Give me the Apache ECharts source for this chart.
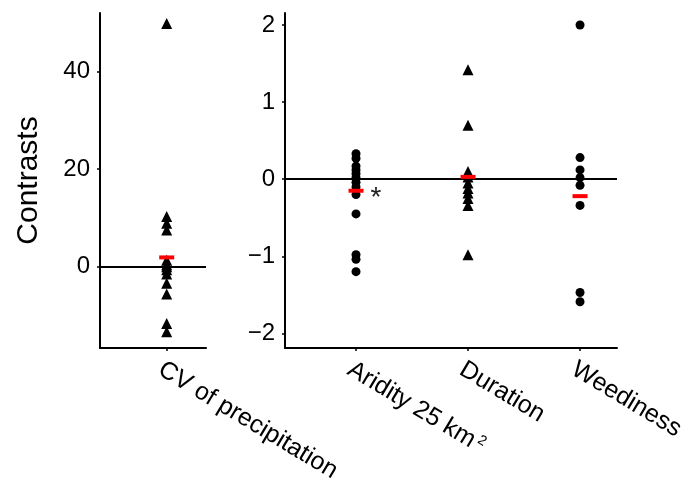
<!DOCTYPE html>
<html><head><meta charset="utf-8">
<script src="https://cdn.jsdelivr.net/npm/echarts@6/dist/echarts.min.js"></script>
<style>html,body{margin:0;padding:0;background:#fff}#c{width:693px;height:490px}</style>
</head><body><div id="c"></div>
<script>
// ---- data ----
const leftCategories = ['CV of precipitation'];
const rightCategories = ['Aridity 25 km', 'Duration', 'Weediness'];
const cvValues = [49.8, 10.3, 8.9, 7.5, 1.3, 0.4, 0, -0.6, -1.5, -3.4, -5.6, -11.6, -13.3];
const aridityValues = [0.33, 0.27, 0.17, 0.12, 0.07, 0.02, -0.04, -0.1, -0.2, -0.45, -0.98, -1.04, -1.2];
const durationValues = [1.42, 0.70, 0.1, 0.03, -0.05, -0.12, -0.18, -0.25, -0.34, -0.98];
const weedinessValues = [2.0, 0.28, 0.12, 0.02, -0.08, -0.34, -1.47, -1.59];
const leftMeans = [1.9];
const rightMeans = [-0.15, 0.03, -0.22];
const leftTicks = [0, 20, 40];
const rightTicks = [-2, -1, 0, 1, 2];

const FONT = 'Liberation Sans, Arial, sans-serif';
const TXT = '#000';
const pts = (idx, arr) => arr.map(v => [idx, v]);
const minus = v => String(v).replace('-', '\u2212');

const axisLineStyle = { show: true, onZero: false, lineStyle: { color: '#000', width: 2 } };
const tickStyle = { show: true, length: 3, lineStyle: { color: '#000', width: 1.5 } };
const LABEL_SIZE = 25;
const ROT = -31;

const chart = echarts.init(document.getElementById('c'), null, { renderer: 'canvas' });
chart.setOption({
  animation: false,
  backgroundColor: '#fff',
  grid: [
    { left: 100, right: 693 - 206, top: 13, bottom: 490 - 348, outerBoundsMode: 'none', containLabel: false },
    { left: 285, right: 693 - 617, top: 13, bottom: 490 - 348, outerBoundsMode: 'none', containLabel: false }
  ],
  xAxis: [
    {
      gridIndex: 0, type: 'value', min: -0.667, max: 0.393,
      splitLine: { show: false }, axisLine: axisLineStyle,
      axisTick: { ...tickStyle, customValues: leftCategories.map((c, i) => i) },
      axisLabel: {
        customValues: leftCategories.map((c, i) => i),
        formatter: v => leftCategories[v],
        rotate: ROT, align: 'left', verticalAlign: 'top', margin: 9,
        fontSize: LABEL_SIZE, fontFamily: FONT, color: TXT
      }
    },
    {
      gridIndex: 1, type: 'value', min: -0.634, max: 2.33,
      splitLine: { show: false }, axisLine: axisLineStyle,
      axisTick: { ...tickStyle, customValues: rightCategories.map((c, i) => i) },
      axisLabel: {
        customValues: rightCategories.map((c, i) => i),
        formatter: v => v === 0 ? '{n|' + rightCategories[v] + '}{s|2}' : '{n|' + rightCategories[v] + '}',
        rich: {
          n: { fontSize: LABEL_SIZE, fontFamily: FONT, color: TXT },
          s: { fontSize: 14, fontFamily: FONT, color: TXT, verticalAlign: 'top', padding: [0, 0, 0, 3] }
        },
        rotate: ROT, align: 'left', verticalAlign: 'top', margin: 9,
        fontSize: LABEL_SIZE, fontFamily: FONT, color: TXT
      }
    }
  ],
  yAxis: [
    {
      gridIndex: 0, type: 'value', min: -16.64, max: 51.93,
      name: 'Contrasts', nameLocation: 'middle', nameGap: 56,
      nameTextStyle: { fontSize: 30, fontFamily: FONT, color: TXT },
      splitLine: { show: false }, axisLine: axisLineStyle,
      axisTick: { ...tickStyle, customValues: leftTicks },
      axisLabel: { customValues: leftTicks, margin: 10, fontSize: 24, fontFamily: FONT, color: TXT, formatter: minus }
    },
    {
      gridIndex: 1, type: 'value', min: -2.19, max: 2.156,
      splitLine: { show: false }, axisLine: axisLineStyle,
      axisTick: { ...tickStyle, customValues: rightTicks },
      axisLabel: { customValues: rightTicks, margin: 10, fontSize: 24, fontFamily: FONT, color: TXT, formatter: minus }
    }
  ],
  series: [
    {
      type: 'scatter', xAxisIndex: 0, yAxisIndex: 0, symbol: 'triangle', symbolSize: 11,
      itemStyle: { color: '#000', opacity: 1 }, data: pts(0, cvValues), z: 3,
      markLine: { silent: true, symbol: 'none', label: { show: false },
        lineStyle: { color: '#000', width: 2, type: 'solid' }, data: [{ yAxis: 0 }] }
    },
    {
      type: 'scatter', xAxisIndex: 1, yAxisIndex: 1, symbol: 'circle', symbolSize: 9,
      itemStyle: { color: '#000', opacity: 1 }, data: pts(0, aridityValues), z: 3,
      markLine: { silent: true, symbol: 'none', label: { show: false },
        lineStyle: { color: '#000', width: 2, type: 'solid' }, data: [{ yAxis: 0 }] }
    },
    {
      type: 'scatter', xAxisIndex: 1, yAxisIndex: 1, symbol: 'triangle', symbolSize: 11,
      itemStyle: { color: '#000', opacity: 1 }, data: pts(1, durationValues), z: 3
    },
    {
      type: 'scatter', xAxisIndex: 1, yAxisIndex: 1, symbol: 'circle', symbolSize: 9,
      itemStyle: { color: '#000', opacity: 1 }, data: pts(2, weedinessValues), z: 3
    },
    {
      type: 'scatter', xAxisIndex: 0, yAxisIndex: 0, symbol: 'rect', symbolSize: [15, 4],
      itemStyle: { color: '#ff0000', opacity: 1 }, data: leftMeans.map((v, i) => [i, v]), z: 5
    },
    {
      type: 'scatter', xAxisIndex: 1, yAxisIndex: 1, symbol: 'rect', symbolSize: [15, 4],
      itemStyle: { color: '#ff0000', opacity: 1 }, z: 5,
      data: rightMeans.map((v, i) => i === 0 ? {
        value: [i, v],
        label: { show: true, formatter: '*', position: 'right', distance: 7, offset: [0, 8],
          fontSize: 28, fontFamily: FONT, color: '#222' }
      } : [i, v])
    }
  ]
});
</script></body></html>
